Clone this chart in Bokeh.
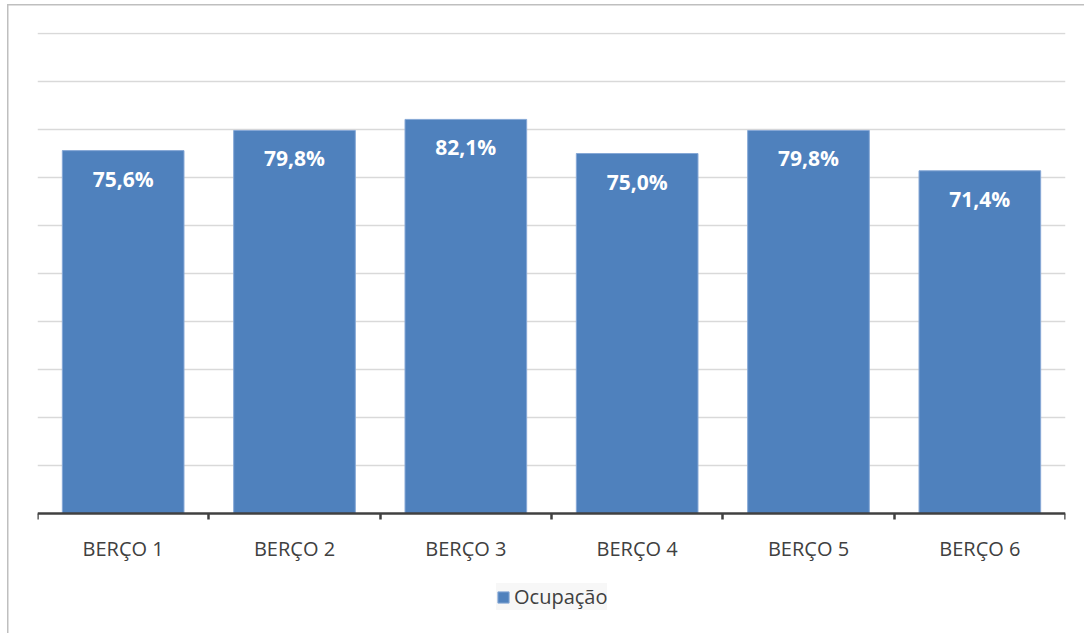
from bokeh.plotting import figure
from bokeh.models import (ColumnDataSource, Range1d, FixedTicker, LabelSet,
                          Legend, LegendItem)
from bokeh.core.properties import value
from bokeh.embed import file_html
from bokeh.resources import INLINE

# Occupancy per berth
categories = ["BERÇO 1", "BERÇO 2", "BERÇO 3", "BERÇO 4", "BERÇO 5", "BERÇO 6"]
occupancy = [0.756, 0.798, 0.821, 0.750, 0.798, 0.714]
series_name = "Ocupação"

labels = [f"{v * 100:.1f}%".replace(".", ",") for v in occupancy]
centers = [i + 0.5 for i in range(len(categories))]

source = ColumnDataSource(data=dict(x=centers, value=occupancy, label=labels))

# 480 px per 100%; the frame reaches down to the legend area below the axis
p = figure(width=1084, height=633, output_backend="svg", toolbar_location=None,
           x_range=Range1d(0, len(categories)),
           y_range=Range1d(-120 / 480, 481 / 480),
           min_border_left=37, min_border_right=19, min_border_top=32,
           min_border_bottom=0)
p.outline_line_color = None
p.background_fill_color = "white"
# transparent surround so the page background (chart border) shows through
p.border_fill_alpha = 0
p.styles = {
    "background": ("linear-gradient(#bfbfbf, #bfbfbf) 7px 4px / 1.5px 100% no-repeat, "
                   "linear-gradient(#bfbfbf, #bfbfbf) 7px 4px / 100% 1.5px no-repeat, "
                   "white"),
}

# horizontal gridlines every 10%
p.yaxis.visible = False
p.ygrid.ticker = FixedTicker(ticks=[i / 10 for i in range(1, 11)])
p.ygrid.grid_line_color = "#d9d9d9"
p.ygrid.grid_line_width = 1.5
p.xgrid.grid_line_color = None

bars = p.vbar(x="x", top="value", width=0.71, source=source,
              fill_color="#4F81BD", line_color="#86a8d6", line_width=1)

# category axis at 0%: labels at centres, tick marks at the boundaries
ax = p.xaxis[0]
ax.fixed_location = 0
ax.ticker = FixedTicker(ticks=centers, minor_ticks=list(range(len(categories) + 1)))
ax.major_label_overrides = {c: name for c, name in zip(centers, categories)}
ax.major_tick_line_color = None
ax.minor_tick_line_color = "#404040"
ax.minor_tick_line_width = 2.5
ax.minor_tick_out = 6
ax.minor_tick_in = 0
ax.axis_line_color = "#404040"
ax.axis_line_width = 2.5
ax.major_label_standoff = 15
ax.major_label_text_font = "Open Sans"
ax.major_label_text_font_size = "20px"
ax.major_label_text_color = "#404040"

# value labels inside the bars
p.add_layout(LabelSet(x="x", y="value", text="label", source=source,
                      y_offset=-28, text_align="center", text_baseline="middle",
                      text_font=value("Open Sans"), text_font_style="bold",
                      text_font_size="21px", text_color="white"))

legend = Legend(items=[LegendItem(label=series_name, renderers=[bars])],
                location=(459, 23), orientation="horizontal",
                background_fill_color="#f7f7f7", border_line_color=None,
                label_text_font="Open Sans", label_text_font_size="20px",
                label_text_color="#404040", glyph_width=14, glyph_height=14,
                label_standoff=4, padding=11, margin=0)
p.add_layout(legend, "center")

open("out.html", "w").write(file_html(p, INLINE))
